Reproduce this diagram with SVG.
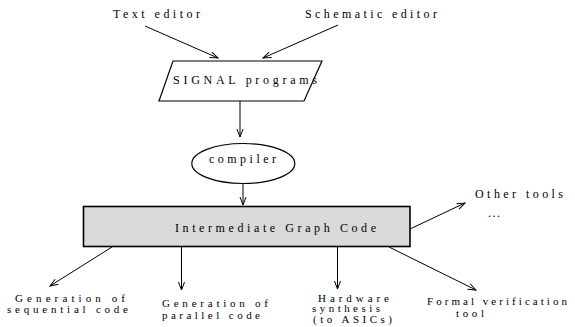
<svg xmlns="http://www.w3.org/2000/svg" width="575" height="327" viewBox="0 0 575 327">
<style>
  text { font-family: "Liberation Serif", "Times New Roman", "DejaVu Serif", serif; font-size: 12px; fill: #000; }
  .small text { font-size: 11px; }
  .conn line { stroke: #000; stroke-width: 1; marker-end: url(#arr); }
  .shape { fill: #fff; stroke: #000; stroke-width: 1.2; }
  .box { fill: #d9d9d9; stroke: #000; stroke-width: 1.6; }
</style>
<defs>
  <marker id="arr" markerWidth="10" markerHeight="8" refX="9" refY="3.5" orient="auto" markerUnits="userSpaceOnUse">
    <path d="M1,0.5 L9,3.5 L1,6.5" fill="none" stroke="#000" stroke-width="1"/>
  </marker>
</defs>
<rect x="0" y="0" width="575" height="327" fill="#fff"/>

<g id="text-editor"><text x="113" y="17.5" textLength="87" lengthAdjust="spacing">Text editor</text></g>
<g id="schematic-editor"><text x="305" y="17.5" textLength="132" lengthAdjust="spacing">Schematic editor</text></g>

<g id="signal-programs">
  <polygon class="shape" points="173,61 322,61 304,101 159,101"/>
  <text x="173" y="84" textLength="144" lengthAdjust="spacing">SIGNAL programs</text>
</g>

<g id="compiler">
  <ellipse class="shape" cx="243.3" cy="163.5" rx="51.5" ry="20"/>
  <text x="209" y="163" textLength="67" lengthAdjust="spacing">compiler</text>
</g>

<g id="intermediate">
  <rect class="box" x="83.5" y="206.5" width="326.5" height="40"/>
  <text x="175" y="231.5" textLength="201" lengthAdjust="spacing">Intermediate Graph Code</text>
</g>

<g id="other-tools">
  <text x="475" y="198" textLength="88" lengthAdjust="spacing">Other tools</text>
  <text x="488" y="217" textLength="12" lengthAdjust="spacing" font-size="9">...</text>
</g>

<g id="seq-code" class="small">
  <text x="15" y="301.5" textLength="110" lengthAdjust="spacing">Generation of</text>
  <text x="7" y="313" textLength="121" lengthAdjust="spacing">sequential code</text>
</g>

<g id="par-code" class="small">
  <text x="162" y="306.7" textLength="106" lengthAdjust="spacing">Generation of</text>
  <text x="162" y="319" textLength="98" lengthAdjust="spacing">parallel code</text>
</g>

<g id="hardware" class="small">
  <text x="318" y="301.5" textLength="71" lengthAdjust="spacing">Hardware</text>
  <text x="312" y="312" textLength="68" lengthAdjust="spacing">synthesis</text>
  <text x="313" y="323" textLength="79" lengthAdjust="spacing">(to ASICs)</text>
</g>

<g id="formal" class="small">
  <text x="427" y="305" textLength="140" lengthAdjust="spacing">Formal verification</text>
  <text x="456" y="317" textLength="28" lengthAdjust="spacing">tool</text>
</g>

<g id="connectors" class="conn">
  <line x1="145" y1="26" x2="218" y2="58"/>
  <line x1="338" y1="25" x2="263" y2="58"/>
  <line x1="240" y1="101" x2="240" y2="137"/>
  <line x1="243" y1="183.5" x2="243" y2="205"/>
  <line x1="410" y1="229" x2="465" y2="203"/>
  <line x1="112" y1="247" x2="50" y2="286"/>
  <line x1="181.5" y1="247" x2="181.5" y2="290"/>
  <line x1="337.5" y1="247" x2="337.5" y2="289"/>
  <line x1="389" y1="247" x2="476" y2="290"/>
</g>
</svg>
